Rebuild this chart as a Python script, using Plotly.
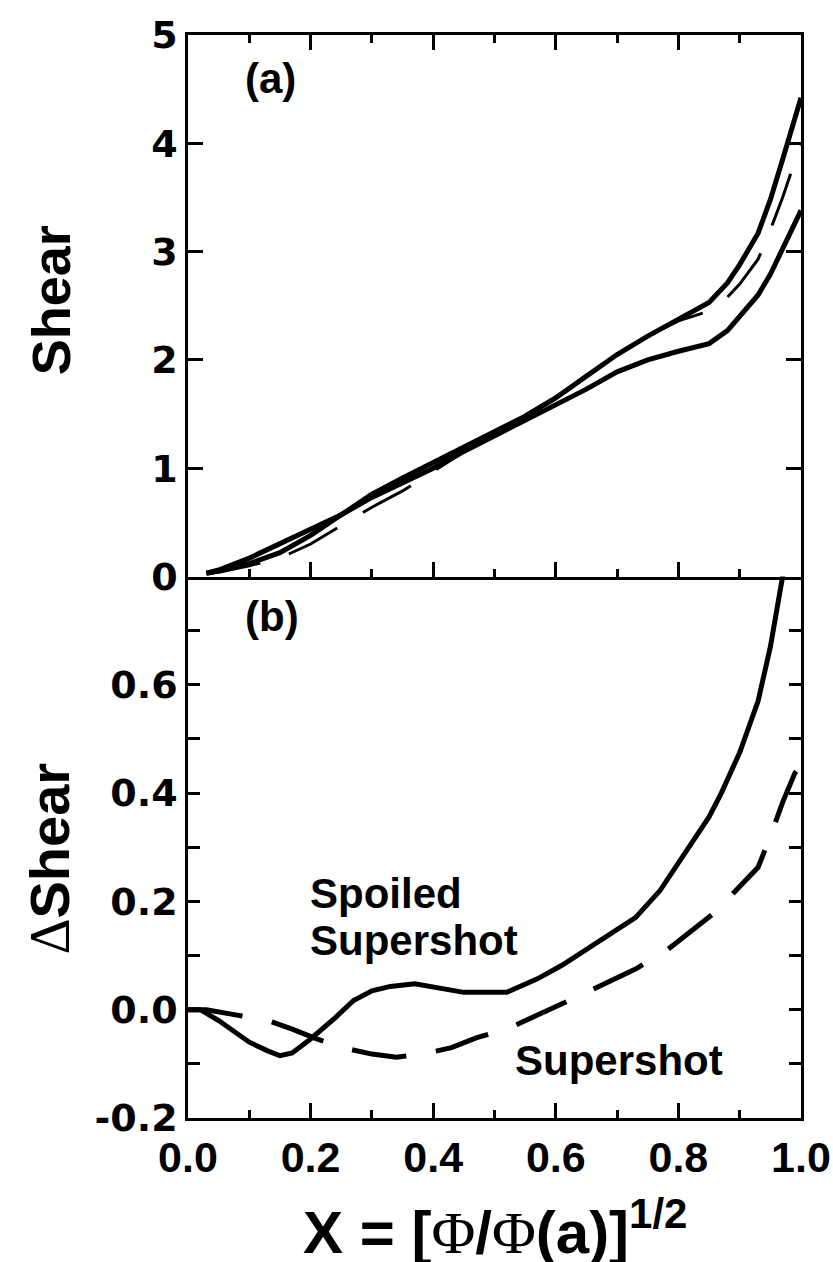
import plotly.graph_objects as go

# ---------------- data ----------------
# Panel (a): Shear profiles
x_a = [0.03, 0.05, 0.10, 0.15, 0.20, 0.25, 0.30, 0.35, 0.40, 0.45, 0.50, 0.55,
       0.60, 0.65, 0.70, 0.75, 0.80, 0.85, 0.88, 0.90, 0.93, 0.95, 0.97, 1.00]
shear_ref = [0.03, 0.05, 0.12, 0.22, 0.38, 0.57, 0.76, 0.91, 1.05, 1.19, 1.33, 1.48,
             1.65, 1.85, 2.05, 2.22, 2.38, 2.53, 2.71, 2.88, 3.17, 3.48, 3.85, 4.42]
shear_spoiled = [0.03, 0.06, 0.17, 0.30, 0.43, 0.57, 0.73, 0.87, 1.00, 1.155, 1.30, 1.44,
                 1.58, 1.73, 1.89, 2.00, 2.08, 2.15, 2.27, 2.40, 2.60, 2.79, 3.02, 3.38]
shear_super = [0.03, 0.04, 0.10, 0.17, 0.30, 0.47, 0.64, 0.79, 0.97, 1.15, 1.32, 1.49,
               1.66, 1.86, 2.05, 2.22, 2.36, 2.45, 2.58, 2.70, 2.93, 3.20, 3.50, 4.00]

# Panel (b): Delta shear
x_b_spoiled = [0.00, 0.02, 0.05, 0.10, 0.13, 0.15, 0.17, 0.20, 0.24, 0.27, 0.30, 0.33,
               0.37, 0.41, 0.45, 0.52, 0.57, 0.61, 0.67, 0.73, 0.77, 0.80, 0.85,
               0.87, 0.90, 0.93, 0.95, 0.97, 0.985]
d_spoiled = [0.000, 0.000, -0.020, -0.060, -0.076, -0.085, -0.080, -0.054, -0.015, 0.017,
             0.035, 0.043, 0.048, 0.041, 0.032, 0.032, 0.057, 0.082, 0.125, 0.170,
             0.220, 0.270, 0.356, 0.400, 0.475, 0.570, 0.670, 0.800, 0.900]
x_b_super = [0.00, 0.03, 0.08, 0.13, 0.17, 0.21, 0.26, 0.30, 0.34, 0.39, 0.43, 0.47,
             0.52, 0.57, 0.60, 0.65, 0.73, 0.78, 0.86, 0.91, 0.93, 0.95, 0.97, 0.99, 1.00]
d_super = [0.000, 0.000, -0.010, -0.020, -0.036, -0.054, -0.072, -0.082, -0.088, -0.080,
           -0.070, -0.052, -0.036, -0.010, 0.004, 0.032, 0.075, 0.109, 0.180, 0.239,
           0.263, 0.320, 0.383, 0.437, 0.450]

ya_ticks = [0, 1, 2, 3, 4, 5]
yb_tickvals = [-0.2, 0.0, 0.2, 0.4, 0.6]
yb_ticktext = ["-0.2", "0.0", "0.2", "0.4", "0.6"]
yb_minor = [-0.1, 0.1, 0.3, 0.5, 0.7]
x_tickvals = [0.0, 0.2, 0.4, 0.6, 0.8, 1.0]
x_ticktext = ["0.0", "0.2", "0.4", "0.6", "0.8", "1.0"]
x_minor = [0.1, 0.3, 0.5, 0.7, 0.9]

# ---------------- figure ----------------
FONT = "Liberation Sans, Arial, sans-serif"
SERIF = "Liberation Serif, Times New Roman, serif"
DASH = "55px,30px"

fig = go.Figure()
# panel (a) -> x2 / y2
fig.add_trace(go.Scatter(x=x_a, y=shear_ref, mode="lines", xaxis="x2", yaxis="y2",
                         line=dict(color="black", width=5)))
fig.add_trace(go.Scatter(x=x_a, y=shear_spoiled, mode="lines", xaxis="x2", yaxis="y2",
                         line=dict(color="black", width=5)))
fig.add_trace(go.Scatter(x=x_a, y=shear_super, mode="lines", xaxis="x2", yaxis="y2",
                         line=dict(color="black", width=3, dash=DASH)))
# panel (b) -> x / y
fig.add_trace(go.Scatter(x=x_b_spoiled, y=d_spoiled, mode="lines", xaxis="x", yaxis="y",
                         line=dict(color="black", width=5)))
fig.add_trace(go.Scatter(x=x_b_super, y=d_super, mode="lines", xaxis="x", yaxis="y",
                         line=dict(color="black", width=5, dash=DASH)))

axis_common = dict(showline=True, linecolor="black", linewidth=2.5, showgrid=False,
                   zeroline=False, ticks="inside", tickcolor="black", tickwidth=2.5,
                   automargin=False)
minor_x = dict(tickvals=x_minor, ticklen=8, ticks="inside", tickcolor="black", tickwidth=2.5)

fig.update_layout(
    width=833, height=1262,
    margin=dict(l=188, r=32, t=35, b=144),
    paper_bgcolor="white", plot_bgcolor="white",
    showlegend=False,
    xaxis=dict(**axis_common, domain=[0, 1], range=[0, 1], anchor="y",
               mirror=False, tickvals=x_tickvals, ticktext=x_ticktext, ticklen=15,
               minor=minor_x,
               tickfont=dict(family=FONT, size=43, color="black", weight="bold")),
    yaxis=dict(**axis_common, domain=[0, 0.5], range=[-0.2, 0.8], anchor="x",
               mirror="ticks", tickvals=yb_tickvals, ticktext=yb_ticktext, ticklen=12,
               minor=dict(tickvals=yb_minor, ticklen=12, ticks="inside",
                          tickcolor="black", tickwidth=2.5),
               tickfont=dict(family="DejaVu Sans, sans-serif", size=38, color="black",
                             weight="bold")),
    xaxis2=dict(**axis_common, domain=[0, 1], range=[0, 1], anchor="y2",
                mirror="ticks", tickvals=x_tickvals, showticklabels=False, ticklen=15,
                minor=minor_x),
    yaxis2=dict(**axis_common, domain=[0.5, 1], range=[0, 5], anchor="x2",
                mirror="ticks", tickvals=ya_ticks, ticklen=15,
                tickfont=dict(family="DejaVu Sans, sans-serif", size=38, color="black",
                              weight="bold")),
)

ann_font = dict(family=FONT, size=42, color="black")
annotations = [
    dict(text="<b>(a)</b>", x=0.135, y=4.60, xref="x2", yref="y2",
         xanchor="center", yanchor="middle", showarrow=False, font=ann_font),
    dict(text="<b>(b)</b>", x=0.137, y=0.726, xref="x", yref="y",
         xanchor="center", yanchor="middle", showarrow=False, font=ann_font),
    dict(text="<b>Spoiled</b>", x=0.196, y=0.215, xref="x", yref="y",
         xanchor="left", yanchor="middle", showarrow=False, font=ann_font),
    dict(text="<b>Supershot</b>", x=0.196, y=0.128, xref="x", yref="y",
         xanchor="left", yanchor="middle", showarrow=False, font=ann_font),
    dict(text="<b>Supershot</b>", x=0.530, y=-0.094, xref="x", yref="y",
         xanchor="left", yanchor="middle", showarrow=False, font=ann_font),
    dict(text="<b>Shear</b>", x=-0.2235, y=0.755, xref="paper", yref="paper",
         xanchor="center", yanchor="middle", textangle=-90, showarrow=False,
         font=dict(family=FONT, size=54, color="black")),
    dict(text=f"<span style=\"font-family:{SERIF};font-weight:normal\">Δ</span><b>Shear</b>",
         x=-0.226, y=0.24, xref="paper", yref="paper",
         xanchor="center", yanchor="middle", textangle=-90, showarrow=False,
         font=dict(family=FONT, size=56, color="black")),
    dict(text=(f"<b>X = [</b><span style=\"font-family:{SERIF};font-weight:normal\">Φ</span>"
               f"<b>/</b><span style=\"font-family:{SERIF};font-weight:normal\">Φ</span>"
               f"<b>(a)]<sup>1/2</sup></b>"),
         x=0.5, y=-0.1016, xref="paper", yref="paper",
         xanchor="center", yanchor="middle", showarrow=False,
         font=dict(family=FONT, size=60, color="black")),
]
fig.update_layout(annotations=annotations)

fig.write_html("out.html")
